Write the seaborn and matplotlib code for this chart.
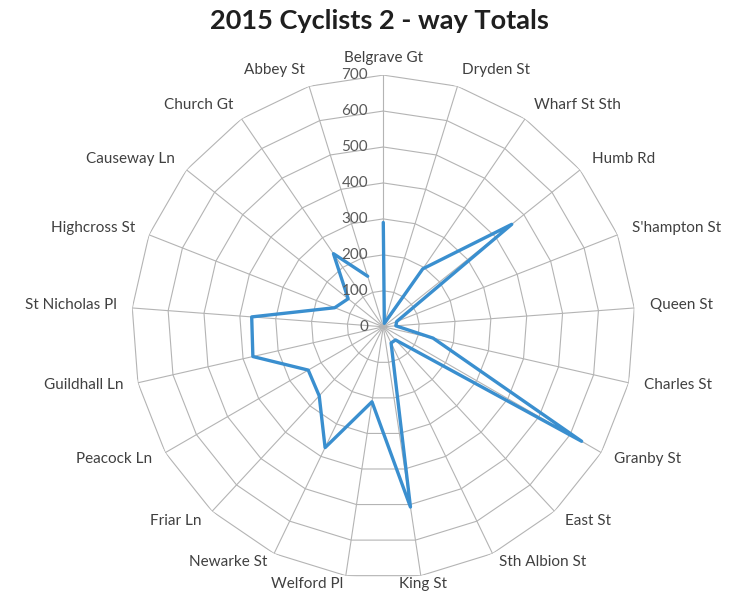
import numpy as np
import pandas as pd
import matplotlib
matplotlib.use("Agg")
import matplotlib.pyplot as plt
import seaborn as sns

# streets, clockwise from the top
streets = ["Belgrave Gt", "Dryden St", "Wharf St Sth", "Humb Rd", "S'hampton St",
           "Queen St", "Charles St", "Granby St", "East St", "Sth Albion St",
           "King St", "Welford Pl", "Newarke St", "Friar Ln", "Peacock Ln",
           "Guildhall Ln", "St Nicholas Pl", "Highcross St", "Causeway Ln",
           "Church Gt", "Abbey St"]
totals = [290, 10, 195, 457, 40, 35, 142, 637, 50, 50,
          507, 211, 373, 262, 241, 372, 367, 145, 125, 246, 147]
ticks = [0, 100, 200, 300, 400, 500, 600, 700]

sns.set_style("white")
plt.rcParams["font.family"] = ["Lato", "DejaVu Sans"]

n = len(streets)
theta = np.linspace(0, 2 * np.pi, n, endpoint=False)
df = pd.DataFrame({"theta": np.append(theta, theta[0]),
                   "total": totals + totals[:1]})

fig = plt.figure(figsize=(7.33, 5.93), dpi=100)
ax = fig.add_axes([0.1795, 0.0245, 0.6868, 0.8489], projection="polar")
ax.set_theta_zero_location("N")
ax.set_theta_direction(-1)
ax.set_ylim(0, ticks[-1])
ax.grid(False)
ax.spines["polar"].set_visible(False)
ax.set_xticks([])
ax.set_yticks([])

grid_c = "#b4b4b4"
# polygon rings and spokes like Excel
closed = np.append(theta, theta[0])
for t in ticks[1:]:
    ax.plot(closed, [t] * (n + 1), color=grid_c, lw=0.8, zorder=1)
for th in theta:
    ax.plot([th, th], [0, ticks[-1]], color=grid_c, lw=0.8, zorder=1)

sns.lineplot(data=df, x="theta", y="total", sort=False, ax=ax,
             color="#3a8fcf", linewidth=2.4, zorder=3)
ax.set_xlabel("")
ax.set_ylabel("")

# radial tick labels
for t in ticks:
    ax.annotate(str(t), xy=(0, t), xytext=(-11, 0), textcoords="offset points",
                ha="right", va="center", fontsize=11, color="#595959")

# category labels
for th, name in zip(theta, streets):
    s, c = np.sin(th), np.cos(th)
    if s > 0.2:
        ha = "left"
    elif s < -0.1:
        ha = "right"
    else:
        ha = "center"
    dy = 11 * c + 1
    if c < -0.9:
        dy = -6
    ax.annotate(name, xy=(th, ticks[-1]), xytext=(11 * s, dy),
                textcoords="offset points", ha=ha, va="center",
                fontsize=11, color="#404040")

fig.suptitle("2015 Cyclists 2 - way Totals", x=0.518, y=0.985, va="top",
             fontsize=19.5, fontweight="bold", color="#1f1f1f")

fig.savefig("out.png", dpi=100)
